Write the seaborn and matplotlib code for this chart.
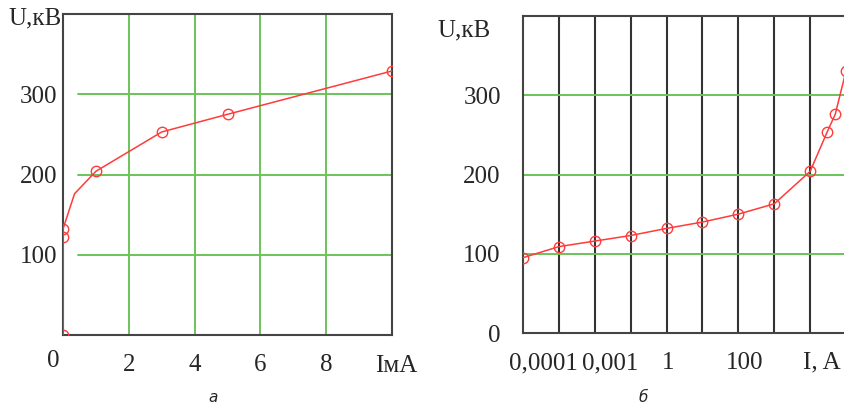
import matplotlib
matplotlib.use("Agg")
import matplotlib.pyplot as plt
import matplotlib.ticker as mticker
import matplotlib.transforms as mtrans
import pandas as pd
import seaborn as sns

# panel "а": U (кВ) vs I (мА), linear axes
i_ma = [0, 0, 0, 0.35, 1, 3, 5, 10]
u_a = [0, 122, 132, 176, 204, 253, 275, 329]
marked_a = [0, 1, 2, 4, 5, 6, 7]

# panel "б": U (кВ) vs I, log axis
i_b = [1e-4, 1e-3, 1e-2, 1e-1, 1, 10, 100, 1e3, 1e4, 3e4, 5e4, 1e5]
u_b = [95, 109, 116, 123, 132, 140, 150, 163, 204, 254, 276, 331]

xt_a = [0, 2, 4, 6, 8]
yt_a = [100, 200, 300]
yt_b = [0, 100, 200, 300]
grid_b = [1e-3, 1e-2, 1e-1, 1, 10, 100, 1e3, 1e4, 1e5]
xt_b_pos = [10**-3.44, 10**-1.58, 10**0.04, 10**2.18]
xt_b_lab = ["0,0001", "0,001", "1", "100"]

red = "#ff3b3b"
green = "#6cc35a"
frame = "#444444"

sns.set_style("white")
plt.rcParams["font.family"] = ["Liberation Serif", "DejaVu Serif"]
plt.rcParams["font.size"] = 18

W, H = 844, 408
fig = plt.figure(figsize=(W / 100, H / 100), dpi=100)
ax1 = fig.add_axes([63 / W, 1 - 335 / H, 329 / W, 321 / H])
ax2 = fig.add_axes([523 / W, 1 - 333 / H, 341 / W, 317 / H])

df_a = pd.DataFrame({"I": i_ma, "U": u_a})
df_b = pd.DataFrame({"I": i_b, "U": u_b})

line_kw = dict(x="I", y="U", color=red, lw=1.1, marker="o", markersize=7.5,
               markerfacecolor="none", markeredgecolor=red, markeredgewidth=1.0,
               estimator=None, sort=False, zorder=5)

# --- panel а ---
sns.lineplot(data=df_a, ax=ax1, markevery=marked_a, **line_kw)
ax1.set_xlim(0, 10)
ax1.set_ylim(0, 400)
ax1.set_xticks(xt_a)
ax1.set_yticks(yt_a)
ax1.xaxis.grid(True, color=green, lw=1.4)
for y in yt_a:
    ax1.axhline(y, xmin=0.045, color=green, lw=1.4, zorder=1)
ax1.set_axisbelow(True)
ax1.tick_params(length=0)
ax1.tick_params(axis="x", pad=14)
ax1.tick_params(axis="y", pad=4)
ax1.set_xlabel("")
ax1.set_ylabel("")
lbls = ax1.get_xticklabels()
lbls[0].set_transform(lbls[0].get_transform()
                      + mtrans.ScaledTranslation(-0.10, 0.04, fig.dpi_scale_trans))

# --- panel б ---
sns.lineplot(data=df_b, ax=ax2, **line_kw)
ax2.set_xscale("log")
ax2.set_xlim(1e-4, 10**5.5)
ax2.set_ylim(0, 400)
ax2.set_yticks(yt_b)
ax2.xaxis.set_major_locator(mticker.FixedLocator(grid_b))
ax2.xaxis.set_major_formatter(mticker.NullFormatter())
ax2.xaxis.set_minor_locator(mticker.FixedLocator(xt_b_pos))
ax2.xaxis.set_minor_formatter(mticker.FixedFormatter(xt_b_lab))
ax2.xaxis.grid(True, which="major", color="#333333", lw=1.5)
ax2.yaxis.grid(True, color=green, lw=1.4)
ax2.set_axisbelow(True)
ax2.tick_params(which="both", length=0)
ax2.tick_params(axis="x", which="minor", pad=14)
ax2.tick_params(axis="y", pad=16)
ax2.set_xlabel("")
ax2.set_ylabel("")

for ax in (ax1, ax2):
    for s in ax.spines.values():
        s.set_color(frame)
        s.set_linewidth(1.5)
    # markers at the frame edge are cut off, as in the original
    for ln in ax.lines:
        ln.set_clip_on(True)
        ln.set_clip_path(ax.patch)

# axis captions
fig.text(8 / W, 1 - 18 / H, "U,кВ", ha="left", va="center", fontsize=18)
fig.text(437 / W, 1 - 30 / H, "U,кВ", ha="left", va="center", fontsize=18)
fig.text(375 / W, 1 - 366 / H, "IмA", ha="left", va="center", fontsize=18)
fig.text(803 / W, 1 - 362 / H, "I, A", ha="left", va="center", fontsize=18)

fig.text(213 / W, 1 - 398 / H, "а", ha="center", va="center",
         family="DejaVu Sans", style="italic", fontsize=11)
fig.text(643 / W, 1 - 398 / H, "б", ha="center", va="center",
         family="DejaVu Sans", style="italic", fontsize=11)

fig.savefig("out.png", dpi=100)
